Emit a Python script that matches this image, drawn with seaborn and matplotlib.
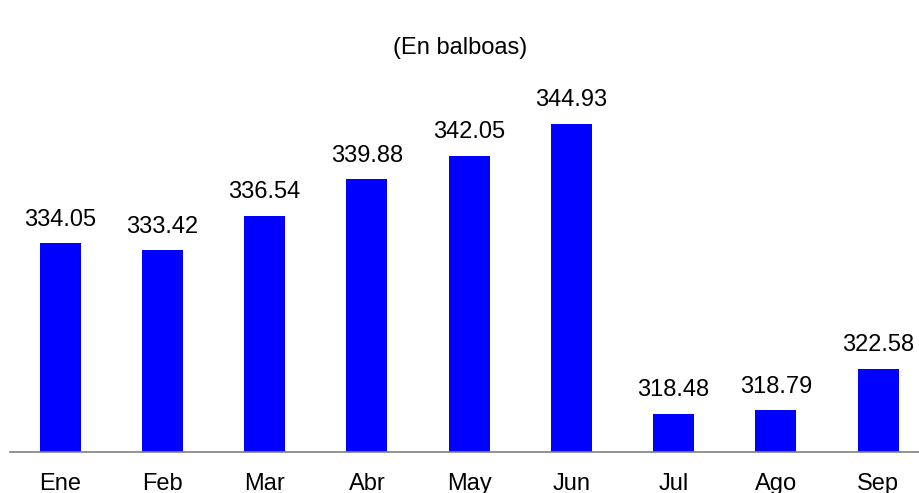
import matplotlib
matplotlib.use('Agg')
import matplotlib.pyplot as plt
import seaborn as sns
import pandas as pd

meses = ['Ene', 'Feb', 'Mar', 'Abr', 'May', 'Jun', 'Jul', 'Ago', 'Sep']
valores = [334.05, 333.42, 336.54, 339.88, 342.05, 344.93, 318.48, 318.79, 322.58]

sns.set_style('white')
plt.rcParams['font.family'] = ['Liberation Sans', 'DejaVu Sans']
plt.rcParams['text.color'] = 'black'
plt.rcParams['xtick.color'] = 'black'

df = pd.DataFrame({'mes': meses, 'valor': valores})

fig = plt.figure(figsize=(9.2, 4.93), dpi=100)
# axes: left edge ~10px, baseline at 452px
ax = fig.add_axes([10 / 920, (493 - 452) / 493, 910 / 920, (452 - 60) / 493])

sns.barplot(data=df, x='mes', y='valor', color='#0000FF', saturation=1,
            width=0.4, edgecolor='none', ax=ax)

ax.set_ylim(315, 315 + 392 / 10.96)
ax.set_xlim(-0.49, 8.41)

for i, v in enumerate(valores):
    ax.annotate(f'{v:.2f}', (i, v), xytext=(0, 9), textcoords='offset points',
                ha='center', va='bottom', fontsize=17, color='black')

for s in ['top', 'right', 'left']:
    ax.spines[s].set_visible(False)
ax.spines['bottom'].set_color('#808080')
ax.spines['bottom'].set_linewidth(1.2)
ax.set_yticks([])
ax.tick_params(axis='x', length=0, pad=15, labelsize=17, labelcolor='black')
ax.set_xlabel(None)
ax.set_ylabel(None)

fig.text(0.5, 1 - 48 / 493, '(En balboas)', ha='center', va='center',
         fontsize=17, color='black')

plt.savefig('out.png', dpi=100)
